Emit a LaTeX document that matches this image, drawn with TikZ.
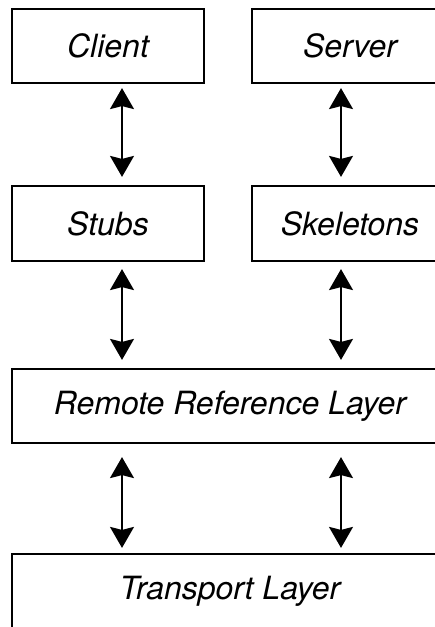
\documentclass[tikz,border=0pt]{standalone}
\usepackage{fontspec}
\setmainfont{TeX Gyre Heros}
\usetikzlibrary{arrows.meta}
\begin{document}
\begin{tikzpicture}[x=1pt,y=1pt,
  box/.style={draw, line width=2.2pt, rectangle, minimum height=74pt, inner sep=0pt,
    font=\fontsize{32}{37}\selectfont\itshape},
  arr/.style={line width=1.7pt, {Stealth[length=21pt,width=24pt,inset=3pt]}-{Stealth[length=21pt,width=24pt,inset=3pt]}}]
\useasboundingbox (0,0) rectangle (435,-627);
\clip (0,0) rectangle (435,-627);
\node[box, minimum width=192pt] (client) at (108,-46) {Client};
\node[box, minimum width=196pt] (server) at (350,-46) {Server};
\node[box, minimum width=192pt, minimum height=75pt] (stubs) at (108,-223.5) {Stubs};
\node[box, minimum width=196pt, minimum height=75pt] (skel) at (350,-223.5) {Skeletons};
\node[box, minimum width=436pt] (remote) at (230,-406) {Remote Reference Layer};
\node[box, minimum width=436pt] (transport) at (230,-591) {Transport Layer};
\draw[arr] ([xshift=14pt,yshift=-4pt]client.south) -- ([xshift=14pt,yshift=8pt]stubs.north);
\draw[arr] ([xshift=-9pt,yshift=-4pt]server.south) -- ([xshift=-9pt,yshift=8pt]skel.north);
\draw[arr] ([xshift=14pt,yshift=-7pt]stubs.south) -- ([xshift=14pt,yshift=8pt]remote.north -| stubs.south);
\draw[arr] ([xshift=-9pt,yshift=-7pt]skel.south) -- ([xshift=-9pt,yshift=8pt]remote.north -| skel.south);
\draw[arr] ([xshift=14pt,yshift=-13pt]remote.south -| stubs.south) -- ([xshift=14pt,yshift=5pt]transport.north -| stubs.south);
\draw[arr] ([xshift=-9pt,yshift=-13pt]remote.south -| skel.south) -- ([xshift=-9pt,yshift=5pt]transport.north -| skel.south);
\end{tikzpicture}
\end{document}
